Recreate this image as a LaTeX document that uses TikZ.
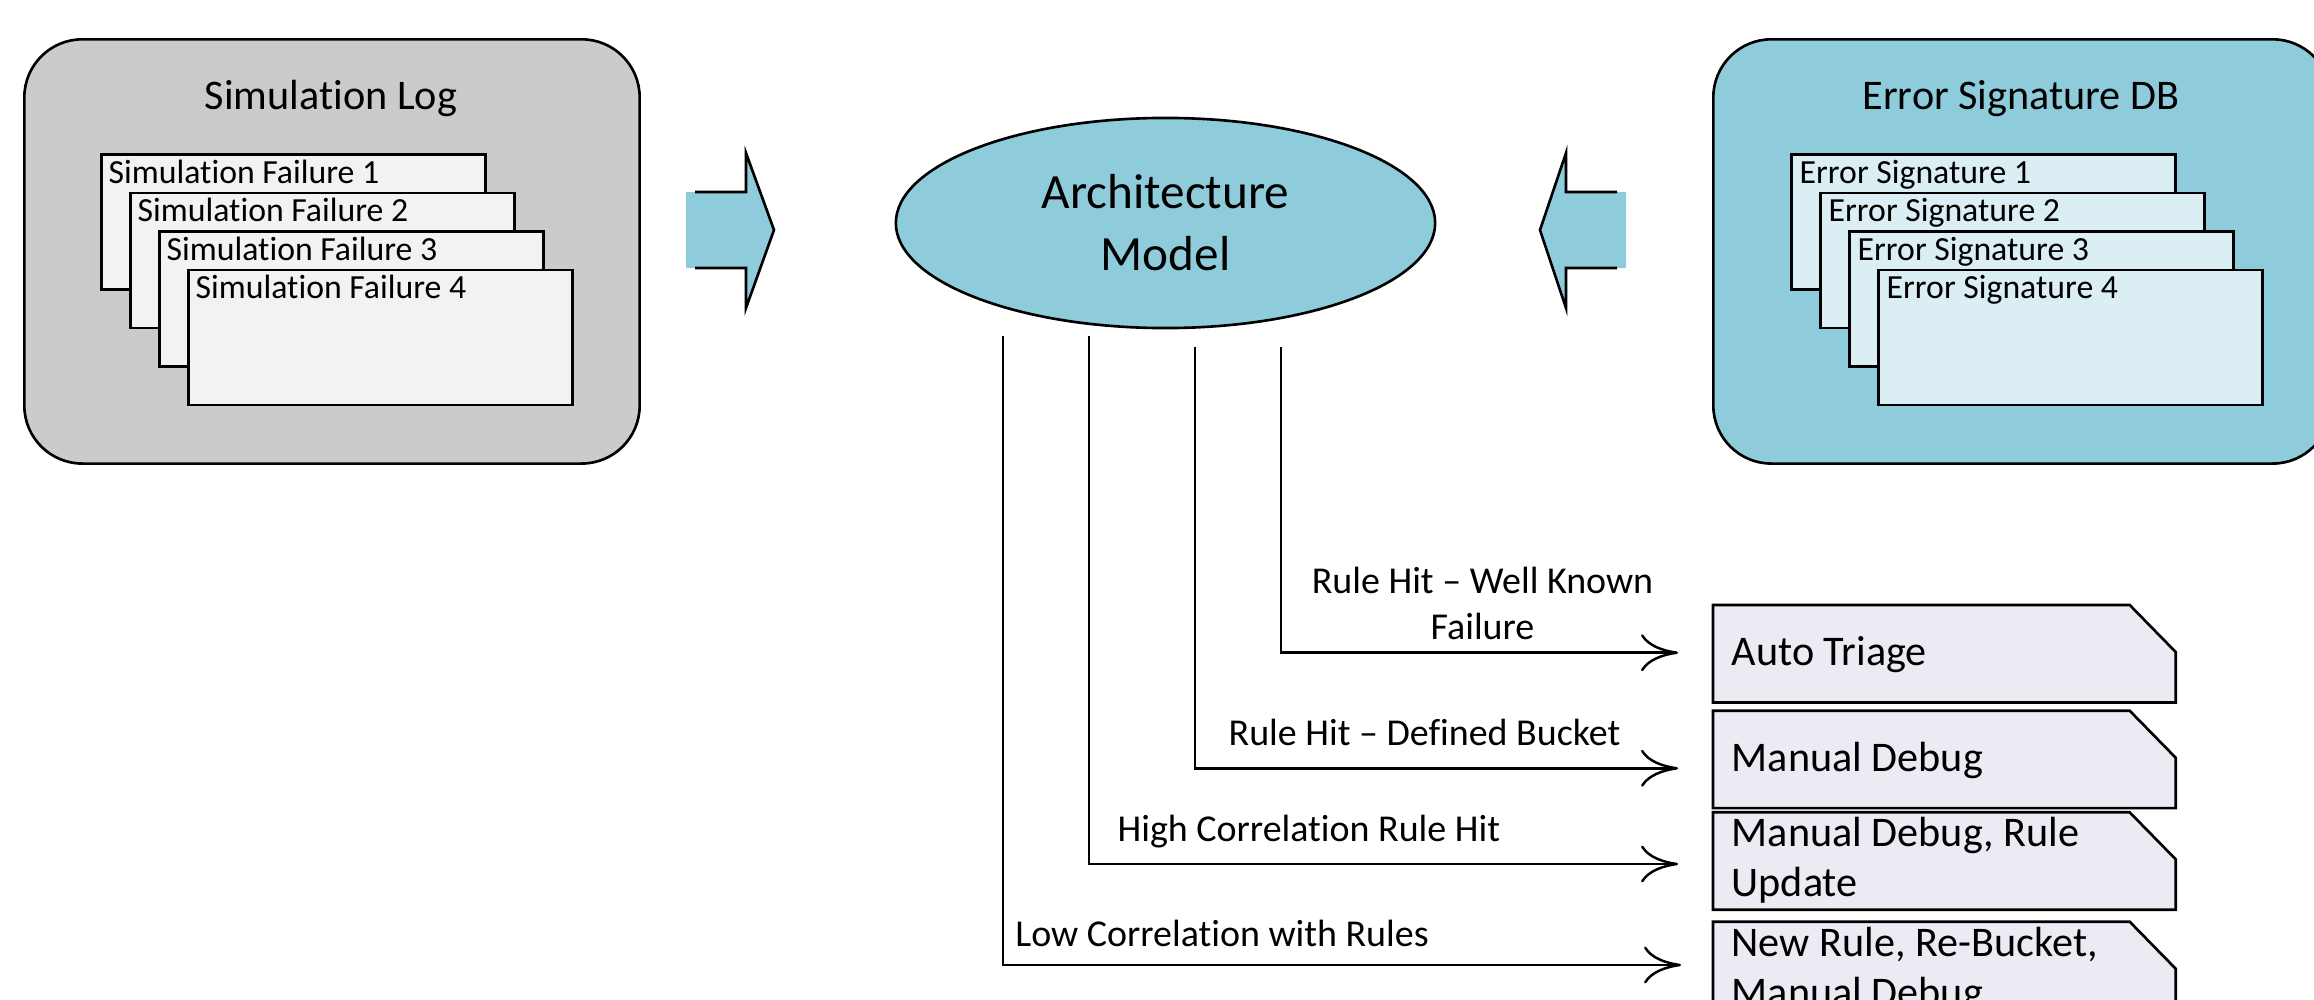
\documentclass[tikz,border=0pt]{standalone}
\usepackage{fontspec}
\setmainfont{Carlito}[Ligatures={TeX,NoCommon}]
\usetikzlibrary{arrows.meta,shapes.geometric,calc}
\definecolor{loggray}{HTML}{CBCBCB}
\definecolor{subgray}{HTML}{F2F2F2}
\definecolor{aqua}{HTML}{8ECCDB}
\definecolor{lightaqua}{HTML}{DAEEF3}
\definecolor{lav}{HTML}{ECEAF2}
\begin{document}
\begin{tikzpicture}[x=0.01cm,y=-0.01cm,
  outline/.style={draw=black, line width=0.75pt},
  container/.style={outline, rounded corners=0.58cm, anchor=north west, inner sep=0, minimum height=4.24cm},
  subbox/.style={outline, rectangle, anchor=north west, minimum width=3.84cm, minimum height=1.35cm, inner sep=0},
  subtext/.style={anchor=base west, inner sep=0, font=\fontsize{9.6}{11.5}\selectfont},
  titletext/.style={anchor=base, inner sep=0, font=\fontsize{12}{14}\selectfont},
  lbl/.style={inner sep=0, font=\fontsize{10.8}{13.1}\selectfont},
  outbox/.style={rectangle, anchor=north west, minimum width=4.61cm, minimum height=0.96cm, inner sep=0},
  outtext/.style={anchor=base west, inner sep=0, font=\fontsize{12}{14.2}\selectfont},
  conn/.style={line width=0.7pt, -{Computer Modern Rightarrow[length=0.37cm,width=0.37cm]}},
]
\useasboundingbox (0,0) rectangle (2314,1000);
\clip (0,0) rectangle (2314,1000);

% Simulation Log container
\node[container, fill=loggray, minimum width=6.15cm] (simlog) at (23,38) {};
\node[titletext] (simlogtitle) at (331,110) {Simulation Log};
\node[subbox, fill=subgray] (sf1) at (100,153) {};
\node[subtext] (sf1t) at ($(sf1.north west)+(8,30)$) {Simulation Failure 1};
\node[subbox, fill=subgray] (sf2) at (129,191.5) {};
\node[subtext] (sf2t) at ($(sf2.north west)+(8,30)$) {Simulation Failure 2};
\node[subbox, fill=subgray] (sf3) at (158,230) {};
\node[subtext] (sf3t) at ($(sf3.north west)+(8,30)$) {Simulation Failure 3};
\node[subbox, fill=subgray] (sf4) at (187,268.5) {};
\node[subtext] (sf4t) at ($(sf4.north west)+(8,30)$) {Simulation Failure 4};

% Error Signature DB container
\node[container, fill=aqua, minimum width=6.17cm] (esdb) at (1712,38) {};
\node[titletext] (esdbtitle) at (2021,109) {Error Signature DB};
\node[subbox, fill=lightaqua] (es1) at (1790,153) {};
\node[subtext] (es1t) at ($(es1.north west)+(9,30)$) {Error Signature 1};
\node[subbox, fill=lightaqua] (es2) at (1819,191.5) {};
\node[subtext] (es2t) at ($(es2.north west)+(9,30)$) {Error Signature 2};
\node[subbox, fill=lightaqua] (es3) at (1848,230) {};
\node[subtext] (es3t) at ($(es3.north west)+(9,30)$) {Error Signature 3};
\node[subbox, fill=lightaqua] (es4) at (1877,268.5) {};
\node[subtext] (es4t) at ($(es4.north west)+(9,30)$) {Error Signature 4};

% Architecture model
\node[ellipse, outline, fill=aqua, minimum width=5.39cm, minimum height=2.1cm, inner sep=0,
      align=center, font=\fontsize{14}{17.6}\selectfont] (arch) at (1165.5,223) {Architecture\\Model};

% block arrows
\fill[aqua] (686,192) -- (746,192) -- (746,153) -- (774,230) -- (746,308) -- (746,268) -- (686,268) -- cycle;
\draw[outline] (695,192) -- (746,192) -- (746,153) -- (774,230) -- (746,308) -- (746,268) -- (695,268);
\fill[aqua] (1626,192) -- (1566,192) -- (1566,153) -- (1540,230) -- (1566,308) -- (1566,268) -- (1626,268) -- cycle;
\draw[outline] (1617,192) -- (1566,192) -- (1566,153) -- (1540,230) -- (1566,308) -- (1566,268) -- (1617,268);

% output boxes
\node[outbox] (ob1) at (1713,605) {};
\node[outbox] (ob2) at (1713,710.7) {};
\node[outbox] (ob3) at (1713,812.3) {};
\node[outbox] (ob4) at (1713,921.7) {};
\foreach \b in {ob1,ob2,ob3,ob4}{
  \draw[outline, fill=lav] (\b.south west) -- (\b.north west) -- ($(\b.north east)+(-46,0)$)
     -- ($(\b.north east)+(0,47)$) -- (\b.south east) -- cycle;
}
\node[outtext] (ob1t) at ($(ob1.north west)+(18,60)$) {Auto Triage};
\node[outtext] (ob2t) at ($(ob2.north west)+(18,61)$) {Manual Debug};
\node[outtext] (ob3t) at ($(ob3.north west)+(18,34.5)$) {\begin{tabular}[t]{@{}l@{}}Manual Debug, Rule\\Update\end{tabular}};
\node[outtext] (ob4t) at ($(ob4.north west)+(18,35)$) {\begin{tabular}[t]{@{}l@{}}New Rule, Re-Bucket,\\Manual Debug\end{tabular}};

% connectors
\coordinate (s4) at (1281,347); \coordinate (c4) at (1281,652.7); \coordinate (t4) at (1678,652.7);
\coordinate (s3) at (1195,347); \coordinate (c3) at (1195,768.3); \coordinate (t3) at (1678,768.3);
\coordinate (s2) at (1089,336); \coordinate (c2) at (1089,864);   \coordinate (t2) at (1678,864);
\coordinate (s1) at (1003,336); \coordinate (c1) at (1003,965);   \coordinate (t1) at (1681,965);
\draw[conn] (s4) -- (c4) -- (t4);
\draw[conn] (s3) -- (c3) -- (t3);
\draw[conn] (s2) -- (c2) -- (t2);
\draw[conn] (s1) -- (c1) -- (t1);

% connector labels
\node[lbl, anchor=base] (l4) at (1482.5,593) {\begin{tabular}[t]{@{}c@{}}Rule Hit – Well Known\\Failure\end{tabular}};
\node[lbl, anchor=base] (l3) at (1424.5,745) {Rule Hit – Defined Bucket};
\node[lbl, anchor=base west] (l2) at (1117,841.7) {High Correlation Rule Hit};
\node[lbl, anchor=base west] (l1) at (1014.6,946.7) {Low Correlation with Rules};
\end{tikzpicture}
\end{document}
